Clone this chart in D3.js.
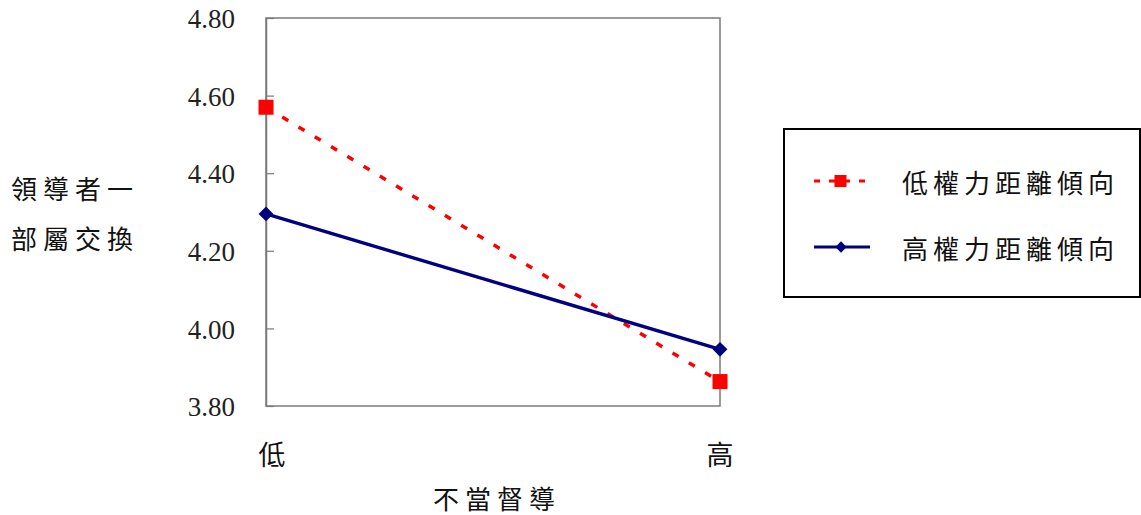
<!DOCTYPE html>
<html>
<head>
<meta charset="utf-8">
<script src="https://cdn.jsdelivr.net/npm/d3@7"></script>
<style>
  html, body { margin: 0; padding: 0; background: #fff; }
  svg { display: block; }
</style>
</head>
<body>
<div id="chart"></div>
<script>
// chart data
const categories = ['低', '高']
const seriesNames = ['低權力距離傾向', '高權力距離傾向']
const lowPowerDistance = [4.57, 3.863]
const highPowerDistance = [4.295, 3.946]
const yTicks = [3.8, 4.0, 4.2, 4.4, 4.6, 4.8]
const yTitle = ['領導者一', '部屬交換']
const xTitle = '不當督導'

const W = 1141, H = 515
const cjk = '"Noto Sans CJK TC", "Noto Sans CJK SC", sans-serif'
const num = '"Liberation Serif", "DejaVu Serif", serif'

const svg = d3.select('#chart').append('svg')
  .attr('width', W).attr('height', H)

const x = d3.scalePoint().domain(categories).range([266, 720]).padding(0)
const y = d3.scaleLinear().domain([3.8, 4.8]).range([406, 18])

// plot frame
svg.append('rect')
  .attr('x', x.range()[0]).attr('y', y(4.8))
  .attr('width', x.range()[1] - x.range()[0])
  .attr('height', y(3.8) - y(4.8))
  .attr('fill', 'none')
  .attr('stroke', '#7a7a7a')
  .attr('stroke-width', 1.5)

// y axis, ticks pointing inward
const yAxis = svg.append('g')
  .attr('transform', `translate(${x.range()[0]},0)`)
  .call(d3.axisLeft(y).tickValues(yTicks).tickFormat(d3.format('.2f'))
    .tickSizeInner(-8).tickSizeOuter(0).tickPadding(31))
yAxis.select('.domain').attr('stroke', '#7a7a7a').attr('stroke-width', 1.5)
yAxis.selectAll('.tick line').attr('stroke', '#7a7a7a').attr('stroke-width', 1.2)
yAxis.selectAll('.tick text')
  .style('font-family', num).style('font-size', '27px')
  .attr('fill', '#222').attr('dy', '0.36em')

// y title, two lines
svg.append('g').selectAll('text').data(yTitle).join('text')
  .attr('x', 11).attr('y', (d, i) => 187 + i * 50)
  .attr('dominant-baseline', 'central')
  .style('font-family', cjk).style('font-size', '26px')
  .style('letter-spacing', '6px')
  .attr('fill', '#111')
  .text(d => d)

// x category labels
svg.append('g').selectAll('text').data(categories).join('text')
  .attr('x', d => x(d) + (d === '低' ? 6 : 0)).attr('y', 453)
  .attr('text-anchor', 'middle').attr('dominant-baseline', 'central')
  .style('font-family', cjk).style('font-size', '27px')
  .attr('fill', '#111')
  .text(d => d)

// x title
svg.append('text')
  .attr('x', 497).attr('y', 497)
  .attr('text-anchor', 'middle').attr('dominant-baseline', 'central')
  .style('font-family', cjk).style('font-size', '26px')
  .style('letter-spacing', '6px')
  .attr('fill', '#111')
  .text(xTitle)

const line = d3.line().x((d, i) => x(categories[i])).y(d => y(d))

// low power distance: red dashed line with squares
svg.append('path')
  .attr('d', line(lowPowerDistance))
  .attr('fill', 'none').attr('stroke', '#ff0000')
  .attr('stroke-width', 3.5).attr('stroke-dasharray', '7,12')
svg.append('g').selectAll('rect').data(lowPowerDistance).join('rect')
  .attr('x', (d, i) => x(categories[i]) - 7.5).attr('y', d => y(d) - 7.5)
  .attr('width', 15).attr('height', 15)
  .attr('fill', '#ff0000')

// high power distance: navy solid line with diamonds
svg.append('path')
  .attr('d', line(highPowerDistance))
  .attr('fill', 'none').attr('stroke', '#000080')
  .attr('stroke-width', 3.4)
svg.append('g').selectAll('path').data(highPowerDistance).join('path')
  .attr('transform', (d, i) => `translate(${x(categories[i])},${y(d)}) rotate(45)`)
  .attr('d', d3.symbol().type(d3.symbolSquare).size(110))
  .attr('fill', '#000080')

// legend
const lg = svg.append('g')
lg.append('rect')
  .attr('x', 784).attr('y', 129).attr('width', 356).attr('height', 168)
  .attr('fill', '#fff').attr('stroke', '#000').attr('stroke-width', 2)

const legendRows = [
  { name: seriesNames[0], y: 181, color: '#ff0000', dash: '6,9', mark: 'square' },
  { name: seriesNames[1], y: 247, color: '#000080', dash: null, mark: 'diamond' }
]
legendRows.forEach(r => {
  lg.append('line')
    .attr('x1', 814).attr('x2', 870).attr('y1', r.y).attr('y2', r.y)
    .attr('stroke', r.color).attr('stroke-width', 3)
    .attr('stroke-dasharray', r.dash)
  if (r.mark === 'square') {
    lg.append('rect')
      .attr('x', 834.5).attr('y', r.y - 6).attr('width', 12).attr('height', 12)
      .attr('fill', r.color)
  } else {
    lg.append('path')
      .attr('transform', `translate(841,${r.y}) rotate(45)`)
      .attr('d', d3.symbol().type(d3.symbolSquare).size(64))
      .attr('fill', r.color)
  }
  lg.append('text')
    .attr('x', 902).attr('y', r.y)
    .attr('dominant-baseline', 'central')
    .style('font-family', cjk).style('font-size', '26px')
    .style('letter-spacing', '5px')
    .attr('fill', '#111')
    .text(r.name)
})
</script>
</body>
</html>
